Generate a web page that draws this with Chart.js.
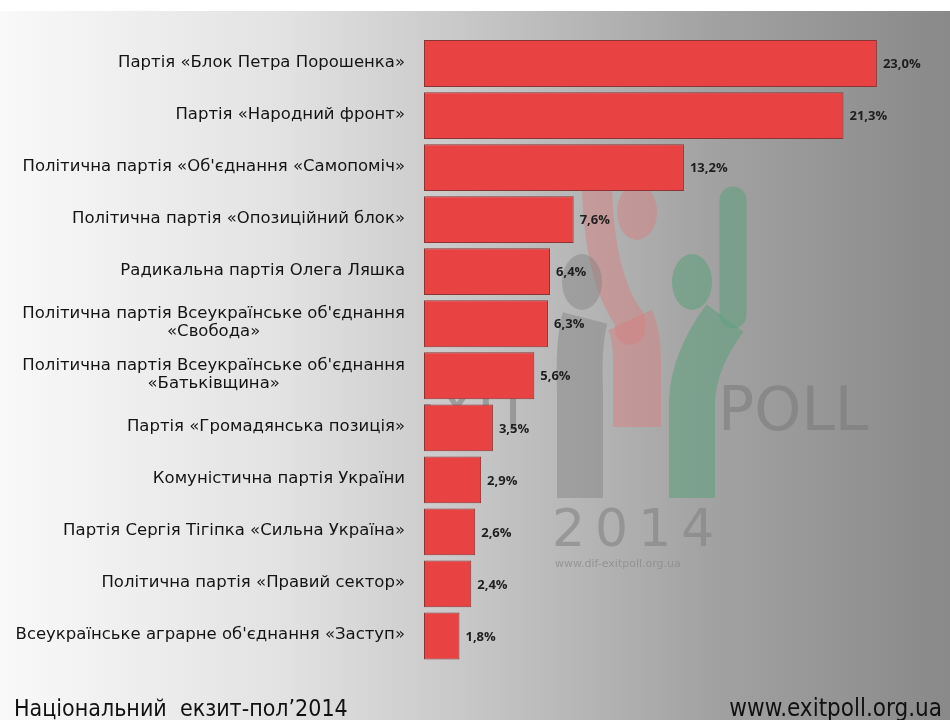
<!DOCTYPE html>
<html>
<head>
<meta charset="utf-8">
<script src="https://cdn.jsdelivr.net/npm/chart.js@4"></script>
<style>
  html, body { margin: 0; padding: 0; background: #fff; }
  #wrap { width: 950px; height: 720px; }
</style>
</head>
<body>
<div id="wrap"><canvas id="chart" width="950" height="720"></canvas></div>
<script>
const parties = [
  "Партія «Блок Петра Порошенка»",
  "Партія «Народний фронт»",
  "Політична партія «Об'єднання «Самопоміч»",
  "Політична партія «Опозиційний блок»",
  "Радикальна партія Олега Ляшка",
  ["Політична партія Всеукраїнське об'єднання", "«Свобода»"],
  ["Політична партія Всеукраїнське об'єднання", "«Батьківщина»"],
  "Партія «Громадянська позиція»",
  "Комуністична партія України",
  "Партія Сергія Тігіпка «Сильна Україна»",
  "Політична партія «Правий сектор»",
  "Всеукраїнське аграрне об'єднання «Заступ»"
];
const votes = [23.0, 21.3, 13.2, 7.6, 6.4, 6.3, 5.6, 3.5, 2.9, 2.6, 2.4, 1.8];
const footerLeft = "Національний  екзит-пол\u20192014";
const footerRight = "www.exitpoll.org.ua";

const fmt = (v) => v.toFixed(1).replace(".", ",") + "%";

// background: white strip on top, white-to-gray gradient below
const backdrop = {
  id: "backdrop",
  beforeDraw(chart) {
    const { ctx, width, height } = chart;
    ctx.save();
    ctx.fillStyle = "#ffffff";
    ctx.fillRect(0, 0, width, height);
    const g = ctx.createLinearGradient(0, 0, width, 0);
    g.addColorStop(0, "#f9f9f9");
    g.addColorStop(0.3, "#e2e2e2");
    g.addColorStop(0.5, "#c6c6c6");
    g.addColorStop(0.74, "#a3a3a3");
    g.addColorStop(1, "#898989");
    ctx.fillStyle = g;
    ctx.fillRect(0, 11, width, height - 11);
    ctx.restore();
  }
};

// faint exit-poll logo behind the bars
const watermark = {
  id: "watermark",
  beforeDatasetsDraw(chart) {
    const { ctx } = chart;
    ctx.save();
    const band = (color, w, cap, pts) => {
      ctx.strokeStyle = color;
      ctx.lineWidth = w;
      ctx.lineCap = cap;
      ctx.lineJoin = "round";
      ctx.beginPath();
      ctx.moveTo(pts[0][0], pts[0][1]);
      ctx.quadraticCurveTo(pts[1][0], pts[1][1], pts[2][0], pts[2][1]);
      ctx.lineTo(pts[3][0], pts[3][1]);
      ctx.stroke();
    };
    const head = (color, x, y) => {
      ctx.fillStyle = color;
      ctx.beginPath();
      ctx.ellipse(x, y, 20, 28, 0, 0, Math.PI * 2);
      ctx.fill();
    };
    const gray = "rgba(128,128,128,0.45)";
    const pink = "rgba(214,128,128,0.5)";
    const green = "rgba(96,160,126,0.6)";
    // pink
    head(pink, 637, 212);
    band(pink, 30, "round", [[597, 190], [600, 280], [630, 320], [630, 330]]);
    band(pink, 48, "butt", [[630, 320], [637, 335], [637, 360], [637, 427]]);
    // gray
    head(gray, 582, 282);
    band(gray, 46, "butt", [[585, 318], [578, 345], [580, 390], [580, 498]]);
    // green
    head(green, 692, 282);
    band(green, 27, "round", [[733, 200], [733, 260], [733, 300], [733, 315]]);
    band(green, 46, "butt", [[725, 318], [694, 360], [692, 400], [692, 498]]);

    ctx.textBaseline = "alphabetic";
    ctx.textAlign = "left";
    ctx.font = "60px 'DejaVu Sans'";
    ctx.fillStyle = "rgba(120,120,120,0.55)";
    ctx.fillText("POLL", 718, 430);
    ctx.save();
    ctx.beginPath();
    ctx.rect(424, 380, 140, 60);
    ctx.clip();
    ctx.fillText("EXIT", 398, 430);
    ctx.restore();
    ctx.fillStyle = "rgba(130,130,130,0.6)";
    ctx.font = "52px 'DejaVu Sans'";
    ctx.letterSpacing = "10px";
    ctx.fillText("2014", 552, 546);
    ctx.letterSpacing = "0px";
    ctx.font = "11px 'DejaVu Sans'";
    ctx.fillStyle = "rgba(140,140,140,0.8)";
    ctx.fillText("www.dif-exitpoll.org.ua", 555, 567);
    ctx.restore();
  }
};

// category labels and value labels
const labels = {
  id: "labels",
  afterDatasetsDraw(chart) {
    const { ctx } = chart;
    const yScale = chart.scales.y;
    const meta = chart.getDatasetMeta(0);
    ctx.save();
    ctx.fillStyle = "#141414";
    ctx.textBaseline = "middle";
    ctx.font = "16.5px 'DejaVu Sans'";
    parties.forEach((p, i) => {
      const y = yScale.getPixelForValue(i);
      const lines = Array.isArray(p) ? p : [p];
      const w0 = ctx.measureText(lines[0]).width;
      const top = y - (lines.length - 1) * 9 - 1;
      lines.forEach((line, k) => {
        if (k === 0) {
          ctx.textAlign = "right";
          ctx.fillText(line, 405, top);
        } else {
          ctx.textAlign = "center";
          ctx.fillText(line, 405 - w0 / 2, top + k * 18);
        }
      });
    });
    ctx.font = "bold 13px 'Open Sans'";
    ctx.textAlign = "left";
    ctx.fillStyle = "#1e1e1e";
    meta.data.forEach((bar, i) => {
      ctx.fillText(fmt(votes[i]), bar.x + 6, bar.y + 1);
    });

    ctx.textBaseline = "alphabetic";
    ctx.fillStyle = "#111";
    ctx.font = "23px 'DejaVu Sans Condensed'";
    ctx.textAlign = "left";
    ctx.fillText(footerLeft, 14, 716);
    ctx.font = "24px 'DejaVu Sans Condensed'";
    ctx.textAlign = "right";
    ctx.fillText(footerRight, 942, 716);
    ctx.restore();
  }
};

new Chart(document.getElementById("chart").getContext("2d"), {
  type: "bar",
  data: {
    labels: parties,
    datasets: [{
      data: votes,
      backgroundColor: "#e84242",
      borderColor: "#8c3434",
      borderWidth: 1,
      borderSkipped: false,
      barPercentage: 0.9,
      categoryPercentage: 1
    }]
  },
  options: {
    indexAxis: "y",
    responsive: false,
    animation: false,
    layout: { padding: { left: 424, right: 14, top: 37.5, bottom: 58 } },
    scales: {
      x: { display: false, min: 0, max: 26 },
      y: { display: false }
    },
    plugins: {
      legend: { display: false },
      tooltip: { enabled: false }
    }
  },
  plugins: [backdrop, watermark, labels]
});
</script>
</body>
</html>
